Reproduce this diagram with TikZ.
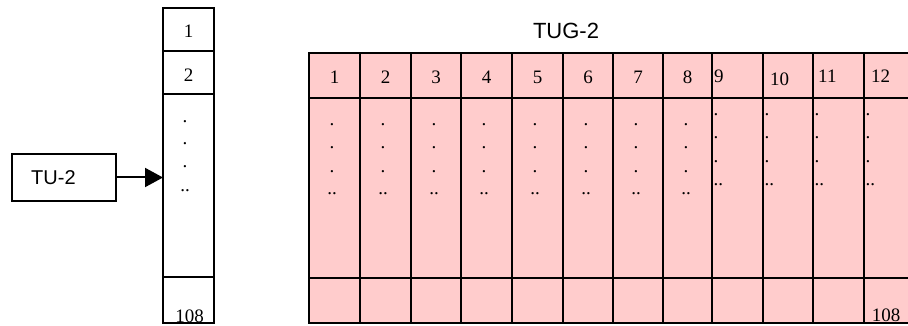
\documentclass[tikz,border=0pt]{standalone}
\usepackage{fontspec}
\setmainfont{Liberation Serif}
\newfontfamily\arialf{Liberation Sans}
\usetikzlibrary{arrows.meta}
\definecolor{cellpink}{HTML}{FFCCCC}
\tikzset{
  cellbox/.style={draw=black, line width=1.6pt, inner sep=0pt, outer sep=0pt},
  pinkbox/.style={cellbox, fill=cellpink},
  num/.style={font=\fontsize{19}{21}\selectfont, inner sep=0pt},
  sans/.style={inner sep=0pt},
  link/.style={draw=black, line width=2pt, -{Triangle[length=18pt,width=19pt]}},
}
\newcommand\mkcell[6]{\node[#6, minimum width={(#4)-(#2)}, minimum height={(#5)-(#3)}] (#1) at ({((#2)+(#4))/2},{((#3)+(#5))/2}) {};}
\begin{document}
\begin{tikzpicture}[x=1pt,y=-1pt]
\useasboundingbox (0,0) rectangle (908,326);
\fill[white] (0,0) rectangle (908,326);
% left column
\mkcell{l1}{163}{8}{214}{51}{cellbox}
\mkcell{l2}{163}{51}{214}{94}{cellbox}
\mkcell{lmid}{163}{94}{214}{277}{cellbox}
\mkcell{lbot}{163}{277}{214}{323}{cellbox}
\node[num] (l1t) at (188.5,31) {1};
\node[num] (l2t) at (188.5,75) {2};
\node[num] (ld1) at (185,122) {.};
\node[num] (ld2) at (185,144) {.};
\node[num] (ld3) at (185,167) {.};
\node[num] (ld4) at (185,191) {..};
\node[num] (lbt) at (189.5,316) {108};
% TU-2
\mkcell{tu}{12}{154}{116}{201}{cellbox}
\node[sans, anchor=west, font=\arialf\fontsize{20}{22}\selectfont] (tut) at (31,177.5) {TU-2};
\draw[link] (tu.east) -- (tu.east -| lmid.west);
% TUG-2 title
\node[sans, font=\arialf\fontsize{22}{24}\selectfont] (tug) at (566,31) {TUG-2};
% right grid
\foreach \i/\xa/\xb in {1/309/360,2/360/411,3/411/461,4/461/512,5/512/563,6/563/613,7/613/663,8/663/712,9/712/763,10/763/813,11/813/864,12/864/914}{
  \mkcell{h\i}{\xa}{53}{\xb}{98}{pinkbox}
  \mkcell{b\i}{\xa}{98}{\xb}{278}{pinkbox}
  \mkcell{f\i}{\xa}{278}{\xb}{323}{pinkbox}
}
\foreach \i/\xa/\xb in {1/309/360,2/360/411,3/411/461,4/461/512,5/512/563,6/563/613,7/613/663,8/663/712}{
  \node[num] (ht\i) at ({(\xa+\xb)/2},77) {\i};
  \node[num] (da\i) at (\xa+23,125) {.};
  \node[num] (db\i) at (\xa+23,148) {.};
  \node[num] (dc\i) at (\xa+23,172) {.};
  \node[num] (dd\i) at (\xa+23,194) {..};
}
\foreach \i/\xa/\dx/\yy in {9/712/2/76,10/763/7/79,11/813/5/76,12/864/7/76}{
  \node[num, anchor=west] (ht\i) at (\xa+\dx,\yy) {\i};
  \node[num, anchor=west] (da\i) at (\xa+1.5,115) {.};
  \node[num, anchor=west] (db\i) at (\xa+1.5,138) {.};
  \node[num, anchor=west] (dc\i) at (\xa+1.5,162) {.};
  \node[num, anchor=west] (dd\i) at (\xa+1.5,185) {..};
}
\node[num] (rbt) at (886,315) {108};
\end{tikzpicture}
\end{document}
